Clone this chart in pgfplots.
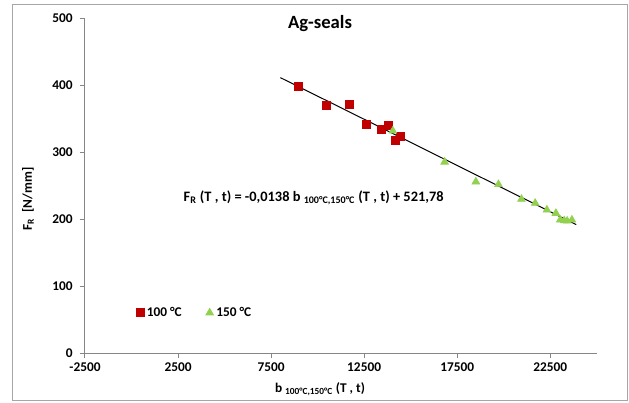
\documentclass[border=0pt]{standalone}
\usepackage{pgfplots}
\pgfplotsset{compat=1.18}
\usepackage{fontspec}
\setmainfont{Carlito}

\definecolor{redmark}{HTML}{C00000}
\definecolor{greenmark}{HTML}{92D050}
\definecolor{axisgray}{HTML}{868686}
\definecolor{framegray}{HTML}{A6A6A6}

% Measured seal force versus b-parameter
\pgfplotstableread{
b       F
8967    399
10456   370
11677   372
12607   342
13397   334
13789   341
14182   318
14418   324
}\dataHundred

\pgfplotstableread{
b       F
14042   332
16826   285.5
18504   256
19719   252
20955   230
21692   224
22321   214
22805   209
23036   199
23251   198
23412   197.5
23665   199
}\dataOneFifty

\begin{document}
\begin{tikzpicture}[x=1pt,y=1pt]
  \useasboundingbox (0,0) rectangle (471.75,302.25);
  \draw[framegray, line width=0.6pt] (9,2.25) rectangle (470.25,299.25);
  \begin{axis}[
    at={(63.75pt,37.3pt)}, anchor=south west,
    scale only axis, width=383.8pt, height=251.25pt,
    xmin=-2500, xmax=25000, ymin=0, ymax=500,
    xtick={-2500,2500,7500,12500,17500,22500},
    ytick={0,100,200,300,400,500},
    axis x line*=bottom, axis y line*=left,
    axis line style={axisgray, line width=0.75pt, -},
    tick style={axisgray, line width=0.75pt},
    tick align=outside, major tick length=3.75pt,
    scaled x ticks=false,
    /pgf/number format/1000 sep={},
    /pgf/number format/assume math mode=true,
    ticklabel style={font=\bfseries\fontsize{10}{12}\selectfont, text=black},
    y tick label style={xshift=-2pt},
    clip=false,
    legend columns=2,
    legend style={draw=none, fill=none, at={(0.215,0.121)}, anchor=center,
      font=\bfseries\fontsize{10}{12}\selectfont,
      /tikz/every even column/.append style={column sep=16pt}},
    legend cell align=left,
  ]
    \addplot[only marks, mark=square*, mark size=3pt, color=redmark]
      table[x=b, y=F] {\dataHundred};
    \addlegendentry{100 °C}
    \addplot[only marks, mark=triangle*, mark size=3.4pt, color=greenmark]
      table[x=b, y=F] {\dataOneFifty};
    \addlegendentry{150 °C}
    % linear fit F = -0.0138 b + 521.78
    \addplot[black, line width=0.75pt, forget plot]
      coordinates {(8000,411.38) (23900,191.96)};
  \end{axis}
  \node[font=\bfseries\fontsize{14}{16}\selectfont] at (240,284.25) {Ag-seals};
  \node[anchor=west, font=\bfseries\fontsize{10.8}{13}\selectfont] at (134.25,153.75)
    {F\textsubscript{R} (T , t) = -0,0138 b \textsubscript{100°C,150°C} (T , t) + 521,78};
  \node[font=\bfseries\fontsize{10}{12}\selectfont] at (240,10.5)
    {b \textsubscript{100°C,150°C} (T , t)};
  \node[rotate=90, font=\bfseries\fontsize{10}{12}\selectfont] at (21,153)
    {F\textsubscript{R}\ \ [N/mm]};
\end{tikzpicture}
\end{document}
